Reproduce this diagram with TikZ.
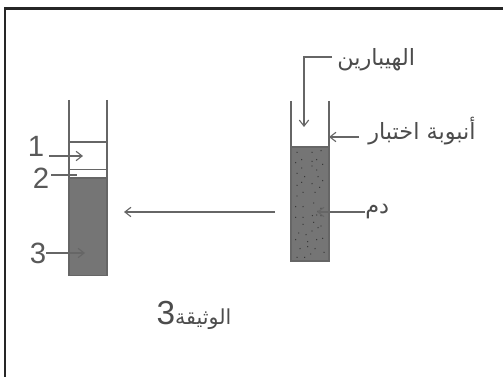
\documentclass[tikz,border=0pt]{standalone}
\usepackage{fontspec}
\setmainfont{Liberation Sans}
\newfontfamily\arabicfont[Script=Arabic]{DejaVu Sans}
\TeXXeTstate=1
\usetikzlibrary{arrows.meta}
\definecolor{tubeline}{gray}{0.40}
\definecolor{bloodfill}{gray}{0.46}
\tikzset{
    tubewall/.style={draw=tubeline, line width=0.9pt},
    bloodbox/.style={draw=tubeline, line width=0.9pt, fill=bloodfill, rectangle, inner sep=0pt, outer sep=0pt, minimum width=28.5pt},
    pointer/.style={draw=tubeline, line width=0.85pt, ->, >={Straight Barb[length=4.5pt,width=7pt]}},
    plainline/.style={draw=tubeline, line width=0.85pt},
    arabiclabel/.style={font=\arabicfont\fontsize{16.8}{19}\selectfont, text=black!70, inner sep=0pt},
    numlabel/.style={font=\fontsize{22}{25}\selectfont, text=black!65, inner sep=0pt}
}
\begin{document}
\begin{tikzpicture}[x=0.75pt, y=-0.75pt]
    \useasboundingbox (0,0) rectangle (503,377);
    % Frame
    \draw[black!85, line width=1.6pt] (5,377) -- (5,8.5) -- (503,8.5);

    % Left tube
    \node[bloodbox, minimum height=73pt, anchor=north west] (leftblood) at (69,178) {};
    \coordinate (lefttopl) at (69,100);
    \coordinate (lefttopr) at (107,100);
    \draw[tubewall] (lefttopl) -- (leftblood.north west);
    \draw[tubewall] (lefttopr) -- (leftblood.north east);
    \draw[tubewall] (69,142) -- (107,142);
    \draw[tubewall] (69,169.5) -- (107,169.5);
    \node[numlabel] (one) at (36,146) {1};
    \node[numlabel] (two) at (41,178) {2};
    \node[numlabel] (three) at (38,253) {3};
    \coordinate (oneend) at (83,156);
    \coordinate (twoend) at (77,175);
    \coordinate (threeend) at (85,253);
    \draw[pointer] (49,156) -- (oneend);
    \draw[plainline] (51,175) -- (twoend);
    \draw[pointer] (three.east) -- (threeend);

    % Right tube
    \node[bloodbox, minimum height=85.5pt, anchor=north west] (rightblood) at (291,147) {};
    \coordinate (righttopl) at (291,101);
    \coordinate (righttopr) at (329,101);
    \draw[tubewall] (righttopl) -- (rightblood.north west);
    \draw[tubewall] (righttopr) -- (rightblood.north east);
    \foreach \dx/\dy in {291/37,336/37,363/32,287/68,305/59,336/64,350/59,368/73,305/84,336/78,350/90,291/100,314/110,354/110,368/122,305/127,291/136,336/131,359/142,309/157,345/157,291/168,341/189,363/205,287/200,309/200,354/214,337/227,350/225,363/227,287/232,309/232,341/247,309/253,363/258,354/263,336/273,296/279,318/284,368/295,287/299,350/299,323/305,323/320,300/326,345/326,332/342,372/337,291/352,314/352}
        \fill[black!80] ({200+\dx/3},{140+\dy/3}) circle (0.5pt);

    % Labels of the right tube
    \node[arabiclabel, anchor=west] (heparin) at (337,60) {\beginR الهيبارين\endR};
    \node[arabiclabel, anchor=west] (testtube) at (368,131) {\beginR أنبوبة اختبار\endR};
    \node[arabiclabel, anchor=west] (blood) at (365,212) {\beginR دم\endR};
    \coordinate (heparincorner) at (304,57);
    \coordinate (heparinend) at (304,127);
    \coordinate (testtubeend) at (329,137);
    \coordinate (bloodend) at (317,212);
    \draw[pointer] (332,57) -- (heparincorner) -- (heparinend);
    \draw[pointer] (359,137) -- (testtubeend);
    \draw[pointer] (blood.west) -- (bloodend);

    % Between the tubes
    \coordinate (longstart) at (275,212);
    \coordinate (longend) at (124,212);
    \draw[pointer] (longstart) -- (longend);

    % Caption
    \node[arabiclabel, anchor=center] (caption) at (194,315) {\fontsize{15.5}{18}\selectfont\beginR الوثيقة{\normalfont\fontsize{25}{28}\selectfont 3}\endR};
\end{tikzpicture}
\end{document}
